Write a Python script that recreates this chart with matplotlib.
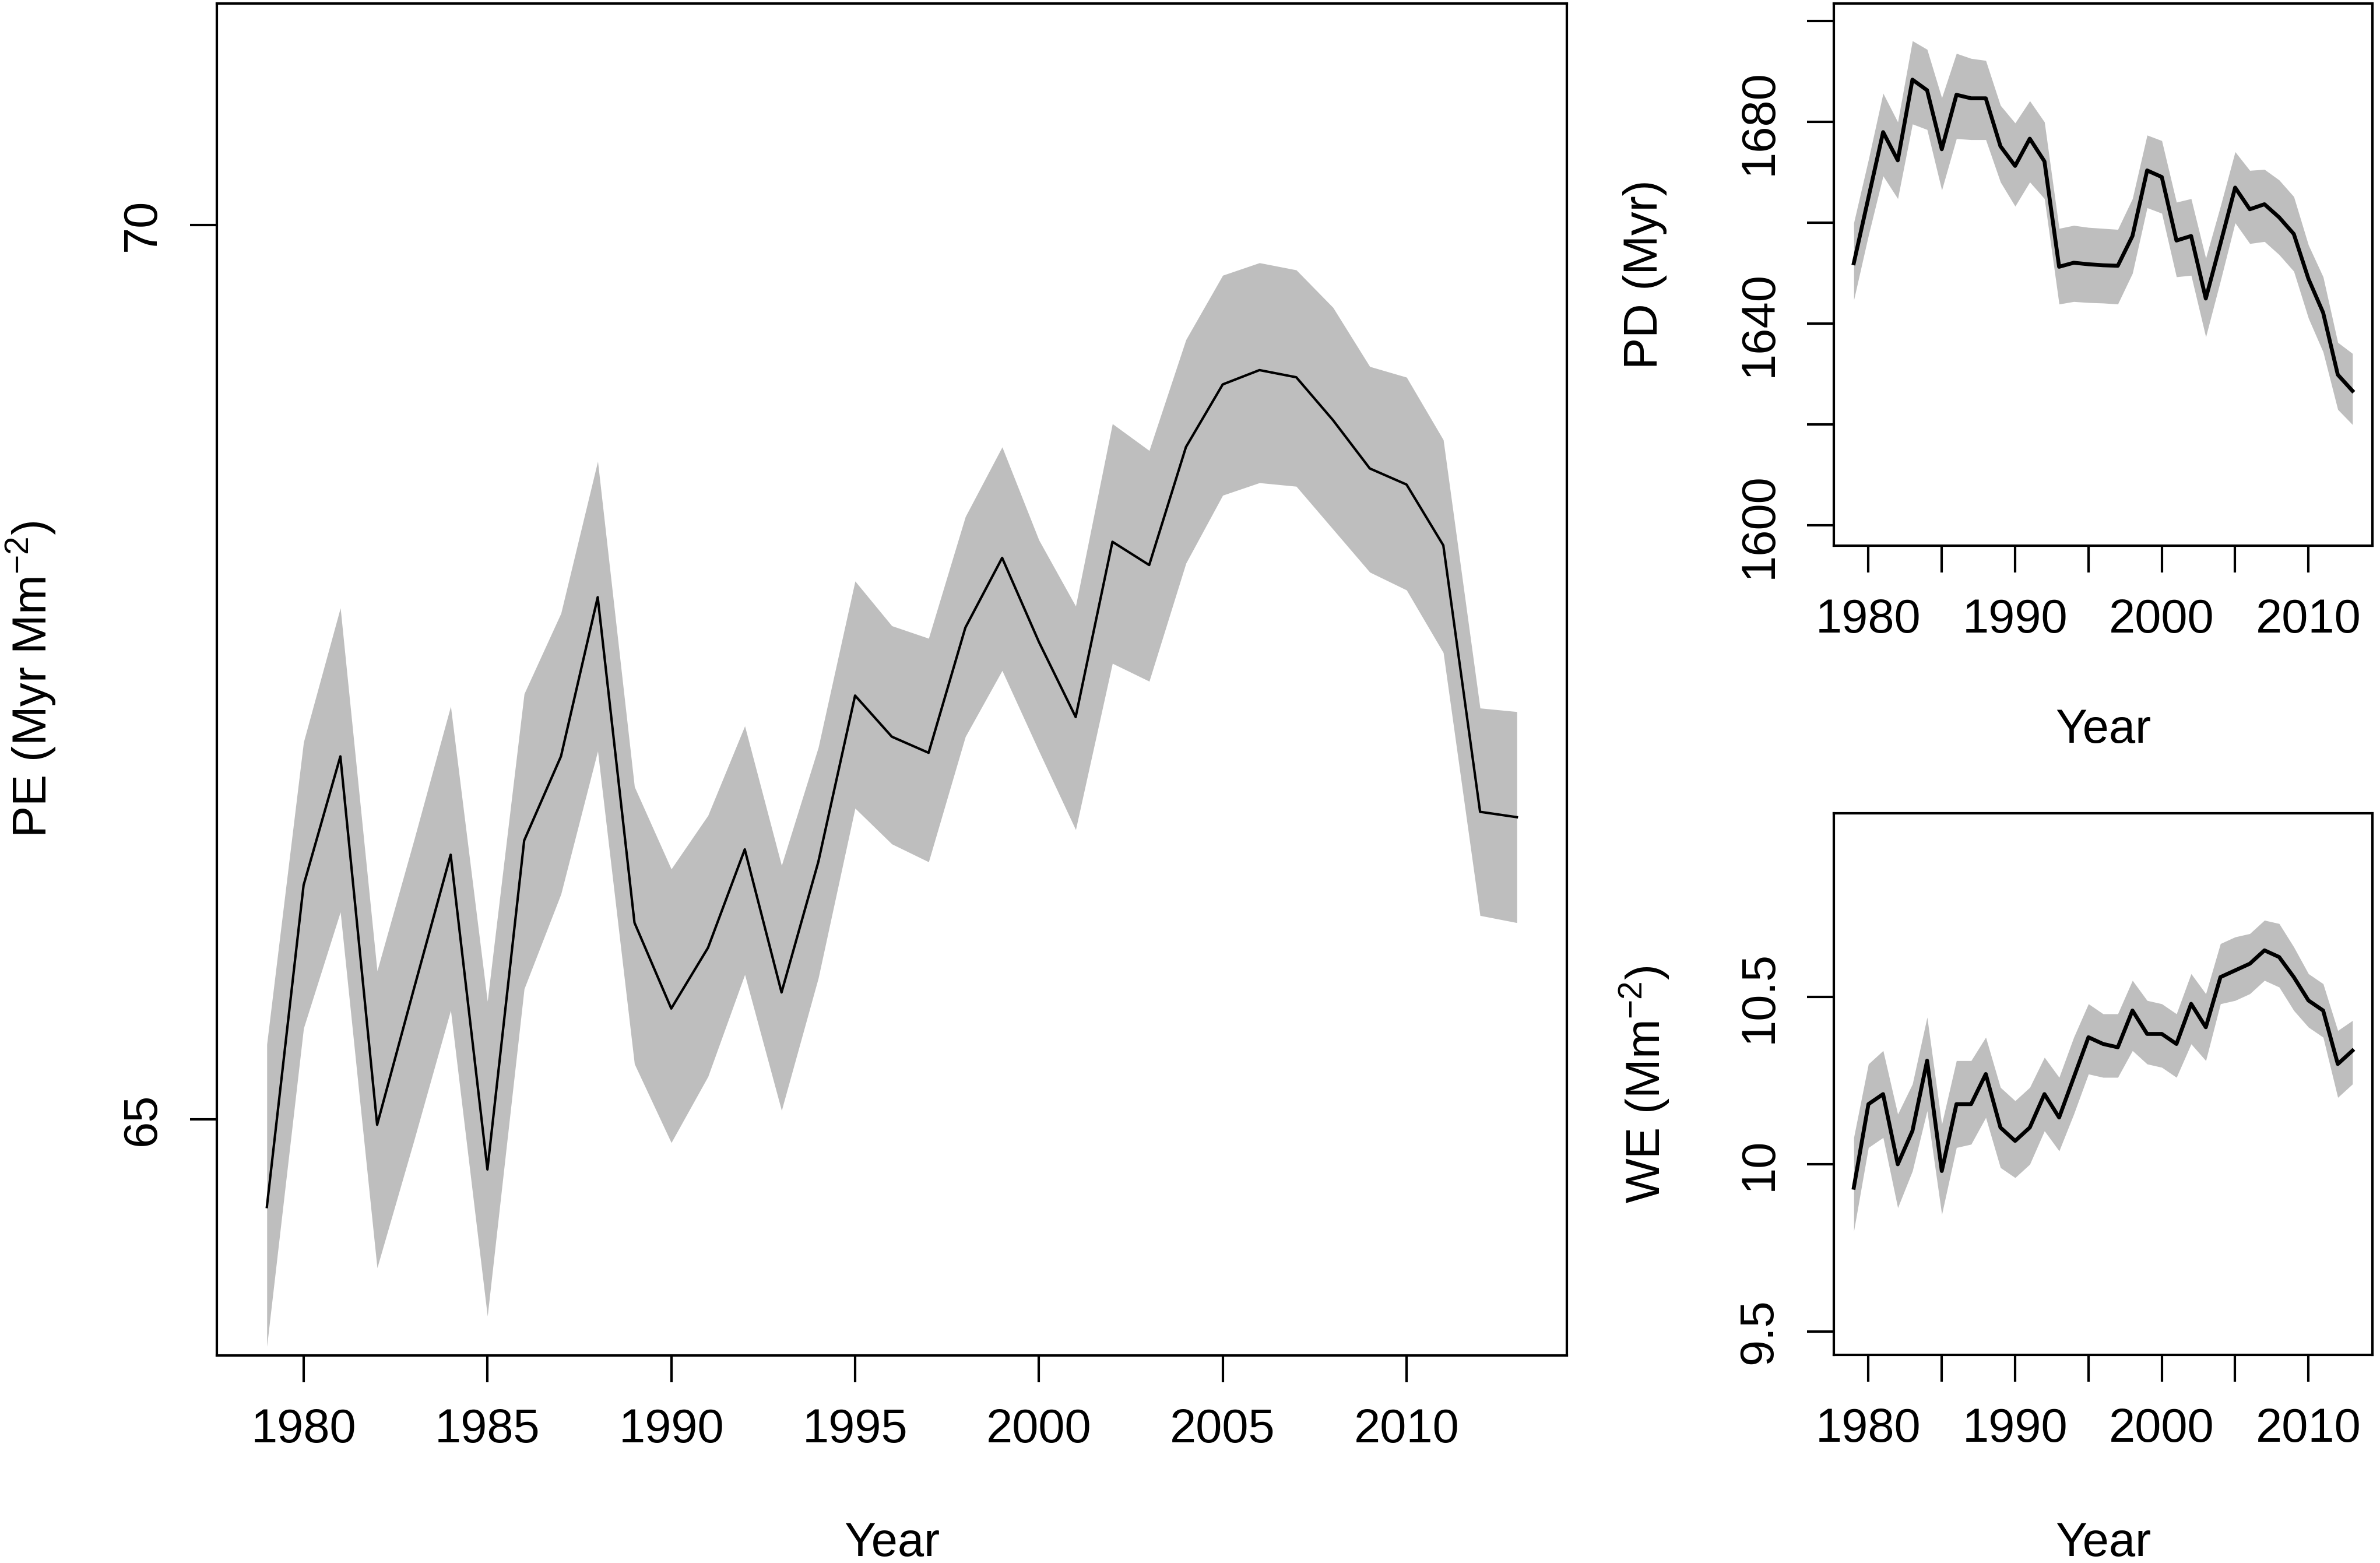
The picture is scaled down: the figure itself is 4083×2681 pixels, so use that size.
import matplotlib
matplotlib.use('Agg')
import matplotlib.pyplot as plt
import numpy as np

plt.rcParams['font.family'] = ['Liberation Sans', 'DejaVu Sans']
plt.rcParams['mathtext.fontset'] = 'custom'
plt.rcParams['mathtext.rm'] = 'Liberation Sans'
plt.rcParams['mathtext.default'] = 'regular'

#%% data

years = np.arange(1979, 2014)

pe_mean = [64.51, 66.31, 67.03, 64.97, 65.73, 66.48, 64.72, 66.56, 67.03, 67.92,
           66.10, 65.62, 65.96, 66.51, 65.71, 66.44, 67.37, 67.14, 67.05, 67.75,
           68.14, 67.67, 67.25, 68.23, 68.10, 68.76, 69.11, 69.19, 69.15, 68.91,
           68.64, 68.55, 68.21, 66.72, 66.69]
pe_upper = [65.42, 67.11, 67.86, 65.83, 66.56, 67.31, 65.66, 67.38, 67.83, 68.68,
            66.86, 66.40, 66.70, 67.20, 66.42, 67.08, 68.01, 67.76, 67.69, 68.37,
            68.76, 68.24, 67.87, 68.89, 68.74, 69.36, 69.72, 69.79, 69.75, 69.54,
            69.21, 69.15, 68.80, 67.30, 67.28]
pe_lower = [63.73, 65.51, 66.16, 64.17, 64.88, 65.61, 63.90, 65.73, 66.26, 67.06,
            65.31, 64.87, 65.24, 65.81, 65.05, 65.79, 66.74, 66.54, 66.44, 67.14,
            67.51, 67.06, 66.62, 67.55, 67.45, 68.11, 68.49, 68.56, 68.54, 68.30,
            68.06, 67.96, 67.61, 66.14, 66.10]

pd_mean = [1652.0, 1665.0, 1678.0, 1672.4, 1688.4, 1686.3, 1674.6, 1685.4, 1684.7, 1684.7,
           1675.2, 1671.3, 1676.7, 1672.2, 1651.3, 1652.1, 1651.8, 1651.6, 1651.5, 1657.4,
           1670.4, 1669.1, 1656.5, 1657.4, 1645.0, 1655.9, 1667.0, 1662.7, 1663.7, 1661.1,
           1657.8, 1648.9, 1642.2, 1629.9, 1626.7]
pd_upper = [1660.0, 1672.5, 1685.7, 1680.0, 1696.1, 1694.4, 1684.8, 1693.6, 1692.6, 1692.2,
            1683.3, 1679.8, 1684.2, 1680.0, 1658.9, 1659.5, 1659.1, 1658.9, 1658.7, 1664.8,
            1677.4, 1676.3, 1664.1, 1664.8, 1653.0, 1663.3, 1674.1, 1670.4, 1670.6, 1668.5,
            1665.2, 1655.6, 1649.3, 1636.3, 1634.1]
pd_lower = [1644.7, 1657.5, 1669.3, 1664.8, 1679.6, 1678.5, 1666.5, 1676.7, 1676.5, 1676.5,
            1668.1, 1663.3, 1668.1, 1664.8, 1643.9, 1644.4, 1644.2, 1644.1, 1643.9, 1650.0,
            1663.0, 1661.9, 1649.3, 1649.6, 1637.4, 1648.5, 1660.0, 1655.9, 1656.3, 1653.7,
            1650.4, 1641.1, 1634.4, 1623.0, 1620.0]

we_mean = [9.93, 10.18, 10.21, 10.00, 10.10, 10.31, 9.98, 10.18, 10.18, 10.27,
           10.11, 10.07, 10.11, 10.21, 10.14, 10.26, 10.38, 10.36, 10.35, 10.46,
           10.39, 10.39, 10.36, 10.48, 10.41, 10.56, 10.58, 10.60, 10.64, 10.62,
           10.56, 10.49, 10.46, 10.30, 10.34]
we_upper = [10.08, 10.30, 10.34, 10.15, 10.24, 10.44, 10.12, 10.31, 10.31, 10.38,
            10.23, 10.19, 10.23, 10.32, 10.26, 10.38, 10.48, 10.45, 10.45, 10.55,
            10.49, 10.48, 10.45, 10.57, 10.51, 10.66, 10.68, 10.69, 10.73, 10.72,
            10.65, 10.57, 10.54, 10.40, 10.43]
we_lower = [9.80, 10.05, 10.08, 9.87, 9.98, 10.16, 9.85, 10.05, 10.06, 10.14,
            9.99, 9.96, 10.00, 10.10, 10.04, 10.15, 10.27, 10.26, 10.26, 10.34,
            10.30, 10.29, 10.26, 10.36, 10.31, 10.48, 10.49, 10.51, 10.55, 10.53,
            10.46, 10.41, 10.38, 10.20, 10.24]

#%% layout (pixel boxes of the original picture)

W, H = 4083, 2681
DPI = 300
FS = 19.5
BAND = '#bebebe'

fig = plt.figure(figsize=(W / DPI, H / DPI), dpi=DPI)


def px_axes(left, top, right, bottom):
    return fig.add_axes([left / W, 1 - bottom / H, (right - left) / W, (bottom - top) / H])


def px_text(x, y, s, rot=0):
    fig.text(x / W, 1 - y / H, s, ha='center', va='center', rotation=rot, fontsize=FS)


def draw(ax, mean, lower, upper, lw, ylim, yticks, ylabels, xlabels):
    ax.fill_between(years, lower, upper, color=BAND, linewidth=0)
    ax.plot(years, mean, color='k', linewidth=lw)
    ax.set_xlim(1977.64, 2014.36)
    ax.set_ylim(*ylim)
    ax.set_xticks(np.arange(1980, 2011, 5))
    ax.set_xticklabels(xlabels)
    ax.set_yticks(yticks)
    ax.set_yticklabels(ylabels, rotation=90, va='center')
    ax.tick_params(direction='out', length=11, width=1.0, labelsize=FS, pad=10.5)
    for sp in ax.spines.values():
        sp.set_linewidth(1.0)


all_years = ['1980', '1985', '1990', '1995', '2000', '2005', '2010']
dec_years = ['1980', '', '1990', '', '2000', '', '2010']

ax1 = px_axes(372, 6, 2688, 2325)
draw(ax1, pe_mean, pe_lower, pe_upper, 1.0, (63.68, 71.24), [65, 70], ['65', '70'], all_years)
px_text(1530, 2648, 'Year')
px_text(54, 1165, 'PE (Myr Mm$^{-2}$)', rot=90)

ax2 = px_axes(3146, 6, 4070, 936)
draw(ax2, pd_mean, pd_lower, pd_upper, 1.6, (1596.0, 1703.5),
     np.arange(1600, 1701, 20), ['1600', '', '1640', '', '1680', ''], dec_years)
px_text(3608, 1253, 'Year')
px_text(2822, 471, 'PD (Myr)', rot=90)

ax3 = px_axes(3146, 1395, 4070, 2324)
draw(ax3, we_mean, we_lower, we_upper, 1.6, (9.43, 11.05),
     [9.5, 10, 10.5], ['9.5', '10', '10.5'], dec_years)
px_text(3608, 2648, 'Year')
px_text(2822, 1860, 'WE (Mm$^{-2}$)', rot=90)

fig.savefig('out.png', dpi=DPI)
